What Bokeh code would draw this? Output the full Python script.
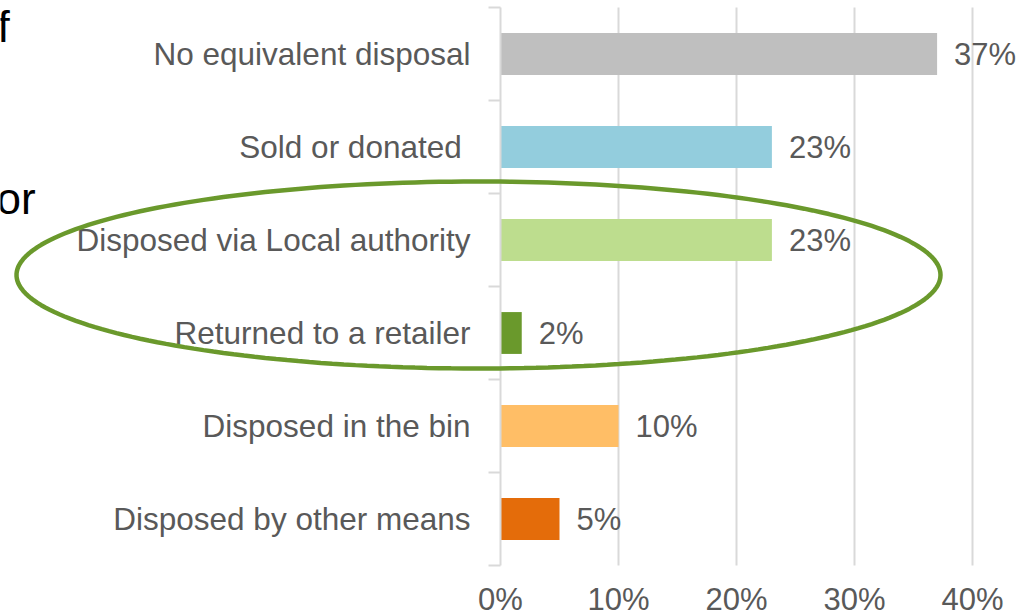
import numpy as np
from bokeh.plotting import figure
from bokeh.models import ColumnDataSource, FixedTicker, Label, PolyAnnotation, NumeralTickFormatter
from bokeh.core.properties import value
from bokeh.embed import file_html
from bokeh.resources import INLINE

categories = ["No equivalent disposal", "Sold or donated ", "Disposed via Local authority",
              "Returned to a retailer", "Disposed in the bin", "Disposed by other means"]
values = [37, 23, 23, 1.8, 10, 5]
value_labels = ["37%", "23%", "23%", "2%", "10%", "5%"]
colors = ["#BFBFBF", "#93CDDD", "#BDDD8E", "#6A992C", "#FFBE66", "#E46C0A"]
x_ticks = [0, 10, 20, 30, 40]

n = len(categories)
ypos = [n - 0.5 - i for i in range(n)]

src = ColumnDataSource(dict(y=ypos, v=values, lab=value_labels, c=colors, cat=categories))

FONT = "Liberation Sans"
GRAY = "#595959"

# pixel geometry of the frame (whole canvas)
W, H = 1021, 616
X0_PX, PX_X = 500.0, 11.8     # pixel of 0%, pixels per 1%
TOP_PX, PX_Y = 7.0, 93.0      # pixel of top category boundary, pixels per category

x_start = -X0_PX / PX_X
x_end = (W - X0_PX) / PX_X
y_end = n + TOP_PX / PX_Y
y_start = n - (H - TOP_PX) / PX_Y

p = figure(width=W, height=H, output_backend="svg", toolbar_location=None,
           x_range=(x_start, x_end), y_range=(y_start, y_end),
           min_border_left=0, min_border_top=0, min_border_bottom=0, min_border_right=0)
p.outline_line_color = None
p.background_fill_color = "white"
p.border_fill_color = "white"
p.xgrid.visible = False
p.ygrid.visible = False

# vertical gridlines (only over the category band)
p.segment(x0=x_ticks[1:], x1=x_ticks[1:], y0=0, y1=n, line_color="#D9D9D9", line_width=2)

p.hbar(y="y", right="v", left=0, height=0.45, color="c", source=src, line_color=None)
p.text(x="v", y="y", text="lab", source=src, x_offset=17, text_baseline="middle",
       text_align="left", text_font=value(FONT), text_font_size="31px", text_color=GRAY)

# y axis, fixed at x = 0
yax = p.yaxis[0]
yax.fixed_location = 0
yax.bounds = (0, n)
yax.ticker = FixedTicker(ticks=ypos, minor_ticks=list(range(n + 1)))
yax.major_label_overrides = {y: c for y, c in zip(ypos, categories)}
yax.major_tick_out = 0
yax.major_tick_in = 0
yax.minor_tick_out = 12
yax.minor_tick_in = 0
yax.minor_tick_line_color = "#D9D9D9"
yax.minor_tick_line_width = 2
yax.axis_line_color = "#D9D9D9"
yax.axis_line_width = 2
yax.major_label_standoff = 18
yax.major_label_text_font = FONT
yax.major_label_text_font_size = "31.5px"
yax.major_label_text_color = GRAY

# x axis, fixed at y = 0
xax = p.xaxis[0]
xax.fixed_location = 0
xax.ticker = FixedTicker(ticks=x_ticks)
xax.formatter = NumeralTickFormatter(format="0")
xax.major_label_overrides = {t: f"{t}%" for t in x_ticks}
xax.axis_line_color = None
xax.major_tick_line_color = None
xax.minor_tick_line_color = None
xax.major_tick_out = 0
xax.major_tick_in = 0
xax.major_label_standoff = 16
xax.major_label_text_font = FONT
xax.major_label_text_font_size = "31px"
xax.major_label_text_color = GRAY

# highlight ellipse (annotation)
cx, cy = (478 - X0_PX) / PX_X, n - (274.5 - TOP_PX) / PX_Y
ax_, ay_ = 462 / PX_X, 93.5 / PX_Y
t = np.linspace(0, 2 * np.pi, 240)
p.add_layout(PolyAnnotation(xs=list(cx + ax_ * np.cos(t)), ys=list(cy + ay_ * np.sin(t)),
                            fill_alpha=0, line_color="#6A992C", line_alpha=1.0, line_width=4.5))

# slide text fragments at left edge
p.add_layout(Label(x=x_start, y=n - (26 - TOP_PX) / PX_Y, text="f", x_offset=-3,
                   text_font=FONT, text_font_size="44px", text_color="black", text_baseline="alphabetic"))
p.add_layout(Label(x=x_start, y=n - (198 - TOP_PX) / PX_Y, text="or", x_offset=-4,
                   text_font=FONT, text_font_size="44px", text_color="black", text_baseline="alphabetic"))

open("out.html", "w").write(file_html(p, INLINE))
